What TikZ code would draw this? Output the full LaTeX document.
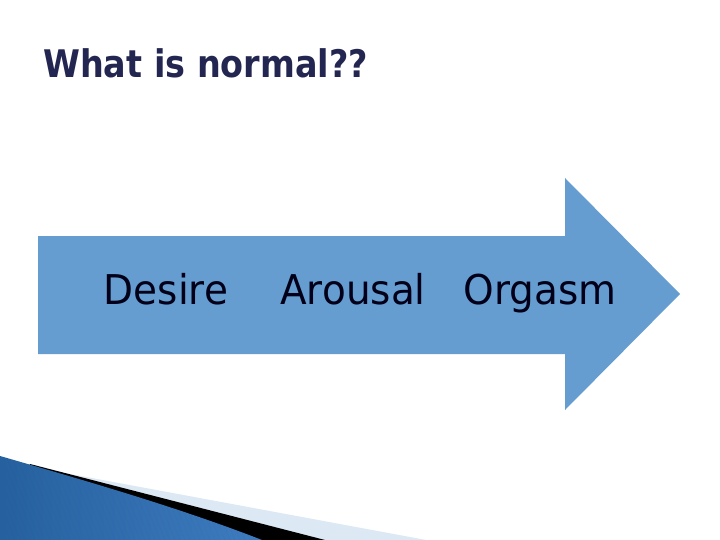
\documentclass[tikz,border=0pt]{standalone}
\usepackage{fontspec}
\setmainfont{DejaVu Sans}
\newfontfamily\titlefont[FakeStretch=0.88]{DejaVu Sans}
\newfontfamily\stagefont[FakeStretch=0.95]{DejaVu Sans}
\definecolor{arrowblue}{RGB}{101,157,209}
\definecolor{titlenavy}{RGB}{35,38,80}
\definecolor{decodark}{RGB}{38,96,158}
\definecolor{decolight}{RGB}{112,172,232}
\definecolor{decoend}{RGB}{62,124,192}
\definecolor{decopale}{RGB}{220,232,244}
\begin{document}
\begin{tikzpicture}[x=1pt, y=-1pt,
    title/.style={font=\titlefont\bfseries\fontsize{38}{44}\selectfont, text=titlenavy, inner sep=0, anchor=base west},
    stage/.style={font=\stagefont\fontsize{41}{48}\selectfont, text=black!90!blue, inner sep=0, anchor=base}
]
\useasboundingbox (0,0) rectangle (720,540);
\fill[white] (0,0) rectangle (720,540);

% corner decoration
\fill[decopale] (0,461) -- (426,540) -- (0,540) -- cycle;
\fill[black] (30,464) -- (325,540) -- (0,540) -- cycle;
\begin{scope}
\clip (0,456) .. controls (90,482) and (180,508) .. (262,540) -- (0,540) -- cycle;
\shade[left color=decodark, middle color=decolight, right color=decoend] (0,450) rectangle (262,540);
\foreach \i in {-120,-115,...,270}
    \draw[decodark, opacity=0.15, line width=0.4pt] (\i,440) -- ++(40,100);
\end{scope}

% big arrow
\fill[arrowblue] (38,236) -- (565,236) -- (565,178) -- (680,294) -- (565,410) -- (565,354) -- (38,354) -- cycle;

\node[title] (title) at (43,78) {What is normal??};

\node[stage] (desire) at (166,304) {Desire};
\node[stage] (arousal) at (353,304) {Arousal};
\node[stage] (orgasm) at (540,304) {Orgasm};
\end{tikzpicture}
\end{document}
